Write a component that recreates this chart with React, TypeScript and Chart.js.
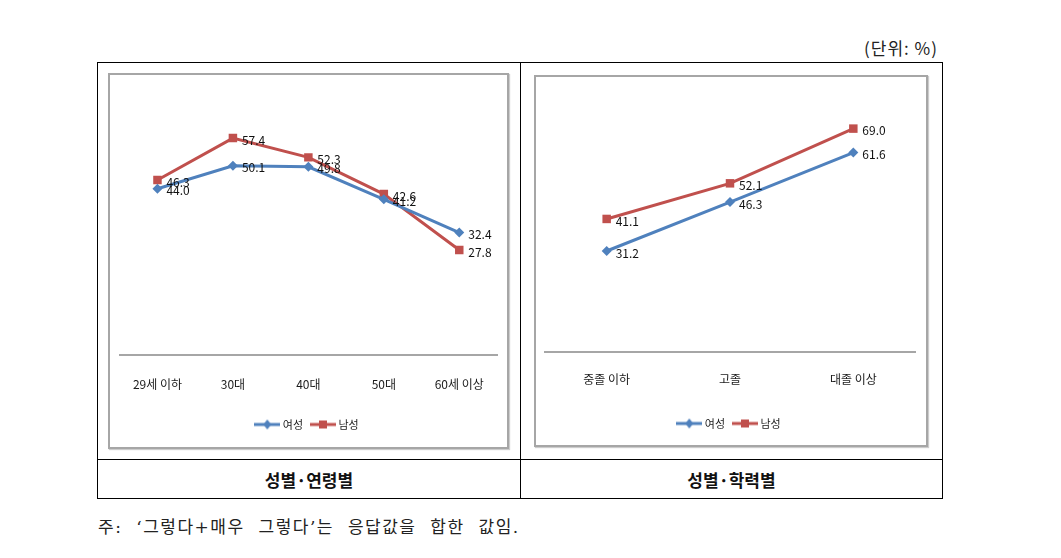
import React, { useEffect, useRef } from "react";
import { Chart, registerables } from "chart.js";

Chart.register(...registerables);

const ageLabels = ["29세 이하", "30대", "40대", "50대", "60세 이상"];
const ageFemale = [44.0, 50.1, 49.8, 41.2, 32.4];
const ageMale = [46.3, 57.4, 52.3, 42.6, 27.8];

const eduLabels = ["중졸 이하", "고졸", "대졸 이상"];
const eduFemale = [31.2, 46.3, 61.6];
const eduMale = [41.1, 52.1, 69.0];

const seriesNames = ["여성", "남성"];
const BLUE = "#4F81BD";
const RED = "#C0504D";
const LABEL_FONT = "'Liberation Sans Narrow', 'Noto Sans CJK KR', sans-serif";
const KR_FONT = "'Noto Sans CJK KR', 'Noto Sans', sans-serif";

function makeLegendImage(color: string, style: "diamond" | "square") {
  const c = document.createElement("canvas");
  c.width = 26;
  c.height = 12;
  const ctx = c.getContext("2d")!;
  ctx.strokeStyle = color;
  ctx.lineWidth = 3;
  ctx.beginPath();
  ctx.moveTo(0, 6);
  ctx.lineTo(26, 6);
  ctx.stroke();
  ctx.fillStyle = color;
  ctx.beginPath();
  if (style === "diamond") {
    ctx.moveTo(13, 1);
    ctx.lineTo(17, 6);
    ctx.lineTo(13, 11);
    ctx.lineTo(9, 6);
    ctx.closePath();
  } else {
    ctx.rect(9, 2, 8, 8);
  }
  ctx.fill();
  return c;
}

const dataLabelPlugin = {
  id: "dataLabels",
  afterDatasetsDraw(chart: any) {
    const ctx = chart.ctx;
    ctx.save();
    ctx.font = `12px ${LABEL_FONT}`;
    ctx.fillStyle = "#111";
    ctx.textAlign = "left";
    ctx.textBaseline = "middle";
    chart.data.datasets.forEach((ds: any, i: number) => {
      const meta = chart.getDatasetMeta(i);
      meta.data.forEach((pt: any, j: number) => {
        const v = ds.data[j] as number;
        ctx.fillText(v.toFixed(1), pt.x + 9, pt.y + 2);
      });
    });
    ctx.restore();
  },
};

type Props = {
  labels: string[];
  female: number[];
  male: number[];
  max: number;
  width: number;
  height: number;
  pad: { left: number; right: number; top: number; bottom: number };
  axisHeight: number;
  tickPad: number;
};

function LineChart(p: Props) {
  const ref = useRef<HTMLCanvasElement | null>(null);
  useEffect(() => {
    if (!ref.current) return;
    const imgF = makeLegendImage(BLUE, "diamond");
    const imgM = makeLegendImage(RED, "square");
    const chart = new Chart(ref.current, {
      type: "line",
      data: {
        labels: p.labels,
        datasets: [
          {
            label: seriesNames[0],
            data: p.female,
            borderColor: BLUE,
            backgroundColor: BLUE,
            borderWidth: 3,
            pointStyle: "rectRot",
            pointRadius: 5,
            pointBorderWidth: 0,
            tension: 0,
          },
          {
            label: seriesNames[1],
            data: p.male,
            borderColor: RED,
            backgroundColor: RED,
            borderWidth: 3,
            pointStyle: "rect",
            pointRadius: 6,
            pointBorderWidth: 0,
            tension: 0,
          },
        ],
      },
      options: {
        animation: false,
        responsive: false,
        maintainAspectRatio: false,
        layout: { padding: p.pad },
        scales: {
          x: {
            offset: true,
            grid: { display: false, drawTicks: false },
            border: { display: true, color: "#a6a6a6", width: 2 },
            ticks: {
              padding: p.tickPad,
              color: "#1a1a1a",
              font: { size: 12, family: LABEL_FONT },
              maxRotation: 0,
              autoSkip: false,
            },
            afterFit: (scale: any) => {
              scale.height = p.axisHeight;
            },
          },
          y: {
            display: false,
            min: 0,
            max: p.max,
          },
        },
        plugins: {
          legend: {
            position: "bottom",
            labels: {
              usePointStyle: true,
              pointStyleWidth: 20,
              padding: 10,
              color: "#222",
              font: { size: 11, family: KR_FONT },
              generateLabels: (chart: any) =>
                chart.data.datasets.map((ds: any, i: number) => ({
                  text: ds.label,
                  fillStyle: ds.borderColor,
                  strokeStyle: ds.borderColor,
                  lineWidth: 0,
                  pointStyle: i === 0 ? imgF : imgM,
                  datasetIndex: i,
                  hidden: false,
                  fontColor: "#222",
                })),
            },
          },
          tooltip: { enabled: false },
        },
      },
      plugins: [dataLabelPlugin],
    });
    return () => chart.destroy();
  }, []);
  return <canvas ref={ref} width={p.width} height={p.height} style={{ display: "block", width: p.width, height: p.height }} />;
}

export default function App() {
  const abs = (s: any): any => ({ position: "absolute", ...s });
  return (
    <div style={abs({ left: 0, top: 0, width: 1061, height: 558, background: "#fff" })}>
      <div style={abs({ right: 1061 - 938, top: 37, fontSize: 17, letterSpacing: 1, fontFamily: KR_FONT, color: "#222", whiteSpace: "nowrap", lineHeight: "22px" })}>
        (단위: %)
      </div>
      {/* table frame */}
      <div style={abs({ left: 97, top: 62, width: 846, height: 437, border: "1px solid #000", boxSizing: "border-box" })} />
      <div style={abs({ left: 520, top: 62, width: 1, height: 437, background: "#000" })} />
      <div style={abs({ left: 97, top: 459, width: 846, height: 1, background: "#000" })} />

      {/* left chart box */}
      <div style={abs({ left: 108, top: 73, width: 401, height: 376, border: "2px solid #a6a6a6", boxSizing: "border-box", boxShadow: "1px 1px 1px #ccc" })}>
        <LineChart
          labels={ageLabels}
          female={ageFemale}
          male={ageMale}
          max={70}
          width={397}
          height={372}
          pad={{ left: 9, right: 10, top: 15.5, bottom: 7 }}
          axisHeight={54}
          tickPad={22}
        />
      </div>
      {/* right chart box */}
      <div style={abs({ left: 534, top: 75, width: 394, height: 372, border: "2px solid #a6a6a6", boxSizing: "border-box", boxShadow: "1px 1px 1px #ccc" })}>
        <LineChart
          labels={eduLabels}
          female={eduFemale}
          male={eduMale}
          max={80}
          width={390}
          height={368}
          pad={{ left: 9, right: 11, top: 16, bottom: 6 }}
          axisHeight={56}
          tickPad={20}
        />
      </div>

      <div style={abs({ left: 98, top: 460, width: 422, height: 39, display: "flex", alignItems: "center", justifyContent: "center", fontSize: 17, fontWeight: "bold", fontFamily: KR_FONT, color: "#111" })}>
        성별·연령별
      </div>
      <div style={abs({ left: 521, top: 460, width: 421, height: 39, display: "flex", alignItems: "center", justifyContent: "center", fontSize: 17, fontWeight: "bold", fontFamily: KR_FONT, color: "#111" })}>
        성별·학력별
      </div>

      <div style={abs({ left: 98, top: 515, fontSize: 17, letterSpacing: 1.5, fontFamily: "'DejaVu Serif', 'Noto Sans CJK KR', serif", color: "#222", whiteSpace: "nowrap", wordSpacing: 7, lineHeight: "24px" })}>
        주: ‘그렇다+매우 그렇다’는 응답값을 합한 값임.
      </div>
    </div>
  );
}
